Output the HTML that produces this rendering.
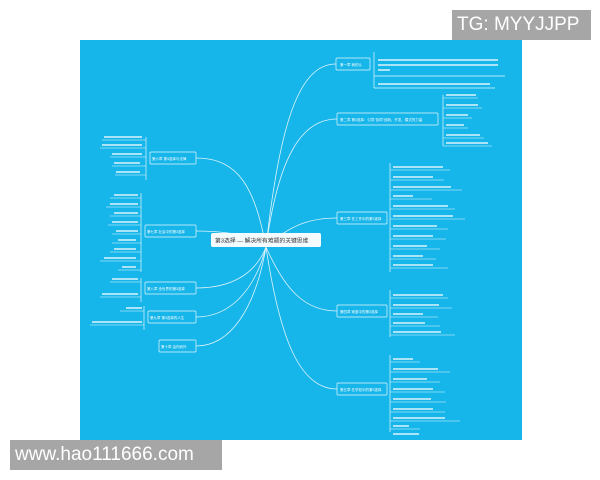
<!DOCTYPE html>
<html><head><meta charset="utf-8"><style>
body{margin:0;background:#fff;width:600px;height:480px;overflow:hidden;position:relative;font-family:"Liberation Sans","Noto Sans CJK SC",sans-serif}
.tg{position:absolute;left:452px;top:10px;width:139px;height:30px;background:#a6a6a6;color:#fff;font-size:19px;line-height:30px;padding-left:5px;box-sizing:border-box}
.wm{position:absolute;left:10px;top:440px;width:212px;height:30px;background:#a6a6a6;color:#fff;font-size:19px;line-height:30px;padding-left:5px;box-sizing:border-box}
svg{position:absolute;left:0;top:0}
</style></head><body>
<svg width="600" height="480" font-family="Liberation Sans, Noto Sans CJK SC, sans-serif">
<rect x="80" y="40" width="442" height="400" fill="#16b5ea"/>
<g fill="none" stroke="#dff4fc" stroke-width="0.8">
<path d="M266 247 C280 120 300 64 336 64"/>
<path d="M266 247 C278 160 300 119 337 119"/>
<path d="M266 247 C290 225 310 218 337 218"/>
<path d="M266 247 C285 290 305 311 337 311"/>
<path d="M266 247 C280 340 300 389 337 389"/>
<path d="M266 247 C255 190 240 158 196 158"/>
<path d="M266 247 C250 236 230 231 196 231"/>
<path d="M266 247 C255 275 230 288 196 288"/>
<path d="M266 247 C255 290 230 317 196 317"/>
<path d="M266 247 C255 310 230 346 196 346"/>
</g>
<rect x="211" y="233" width="110" height="14" rx="2" fill="#f4fbfe"/>
<text x="215" y="242.5" font-size="5.8" fill="#333">第3选择 — 解决所有难题的关键思维</text>
<g fill="none" stroke="#e6f7fd" stroke-width="0.7">
<rect x="336" y="58" width="34" height="12" rx="1"/>
<rect x="337" y="113" width="101" height="12" rx="1"/>
<rect x="337" y="212" width="50" height="12" rx="1"/>
<rect x="337" y="305" width="50" height="12" rx="1"/>
<rect x="337" y="383" width="50" height="12" rx="1"/>
<rect x="150" y="152" width="46" height="12" rx="1"/>
<rect x="145" y="225" width="51" height="12" rx="1"/>
<rect x="145" y="282" width="51" height="12" rx="1"/>
<rect x="148" y="311" width="48" height="12" rx="1"/>
<rect x="159" y="340" width="37" height="12" rx="1"/>
<path d="M374 52V88M374 76H505M374 88H495"/>
<path d="M443 95V146"/><path d="M390 163V272"/><path d="M390 290V337"/><path d="M390 355V432"/>
<path d="M146 137V180"/><path d="M141 193V272"/><path d="M141 278V302"/><path d="M144 306V330"/>
</g>
<g font-size="3.5" fill="#fff">
<text x="340" y="66">第一章 我的认</text>
<text x="340" y="121">第二章 第3选择：引导"协同"创新、开发、模式的力量</text>
<text x="340" y="220">第三章 在工作中的第3选择</text>
<text x="340" y="313">第四章 家庭中的第3选择</text>
<text x="340" y="391">第五章 在学校中的第3选择</text>
<text x="152" y="160">第六章 第3选择与法律</text>
<text x="147" y="233">第七章 社会中的第3选择</text>
<text x="147" y="290">第八章 全世界的第3选择</text>
<text x="150" y="319">第九章 第3选择的人生</text>
<text x="161" y="348">第十章 由内而外</text>
</g>
<g stroke="#e6f7fd" stroke-width="0.6" fill="none">
<path d="M443 98H478M443 108H482M443 118H472M443 128H468M443 138H484M443 146H492"/>
<path d="M390 170H450M390 180H444M390 190H462M390 199H432M390 209H455M390 219H465M390 229H448M390 239H446M390 249H440M390 259H436M390 268H448"/>
<path d="M390 298H448M390 308H452M390 317H438M390 326H440M390 335H455"/>
<path d="M390 362H420M390 372H450M390 382H440M390 392H445M390 402H446M390 412H445M390 421H460M390 429H420"/>
<path d="M146 140H102M146 148H100M146 157H110M146 166H112M146 175H115"/>
<path d="M141 198H110M141 207H106M141 216H110M141 225H108M141 234H112M141 243H112M141 252H110M141 261H100M141 270H118"/>
<path d="M141 282H110M141 297H100"/><path d="M144 311H120M144 325H90"/>
</g>
<g fill="#eaf8fd" opacity="0.7">
<rect x="446" y="94" width="30" height="2"/><rect x="446" y="104" width="32" height="2"/><rect x="446" y="114" width="22" height="2"/><rect x="446" y="124" width="18" height="2"/><rect x="446" y="134" width="34" height="2"/><rect x="446" y="142" width="42" height="2"/>
<rect x="393" y="166" width="50" height="2"/><rect x="393" y="176" width="40" height="2"/><rect x="393" y="186" width="58" height="2"/><rect x="393" y="195" width="20" height="2"/><rect x="393" y="205" width="55" height="2"/><rect x="393" y="215" width="60" height="2"/><rect x="393" y="225" width="44" height="2"/><rect x="393" y="235" width="40" height="2"/><rect x="393" y="245" width="34" height="2"/><rect x="393" y="255" width="30" height="2"/><rect x="393" y="264" width="40" height="2"/>
<rect x="393" y="294" width="50" height="2"/><rect x="393" y="304" width="46" height="2"/><rect x="393" y="313" width="30" height="2"/><rect x="393" y="322" width="32" height="2"/><rect x="393" y="331" width="48" height="2"/>
<rect x="393" y="358" width="20" height="2"/><rect x="393" y="368" width="45" height="2"/><rect x="393" y="378" width="34" height="2"/><rect x="393" y="388" width="40" height="2"/><rect x="393" y="398" width="38" height="2"/><rect x="393" y="408" width="40" height="2"/><rect x="393" y="417" width="52" height="2"/><rect x="393" y="425" width="16" height="2"/><rect x="393" y="433" width="26" height="2"/>
<rect x="104" y="136" width="38" height="2"/><rect x="102" y="144" width="40" height="2"/><rect x="112" y="153" width="30" height="2"/><rect x="114" y="162" width="26" height="2"/><rect x="116" y="171" width="24" height="2"/>
<rect x="114" y="194" width="24" height="2"/><rect x="110" y="203" width="28" height="2"/><rect x="114" y="212" width="24" height="2"/><rect x="112" y="221" width="26" height="2"/><rect x="116" y="230" width="22" height="2"/><rect x="118" y="239" width="18" height="2"/><rect x="114" y="248" width="22" height="2"/><rect x="104" y="257" width="32" height="2"/><rect x="122" y="266" width="14" height="2"/>
<rect x="112" y="278" width="26" height="2"/><rect x="102" y="293" width="36" height="2"/><rect x="126" y="307" width="16" height="2"/><rect x="92" y="321" width="50" height="2"/>
<rect x="378" y="59" width="120" height="2"/><rect x="378" y="64" width="120" height="2"/><rect x="378" y="69" width="12" height="2"/><rect x="378" y="83" width="112" height="2"/>
</g>
</svg>
<div class="tg">TG: MYYJJPP</div>
<div class="wm">www.hao111666.com</div>
</body></html>
